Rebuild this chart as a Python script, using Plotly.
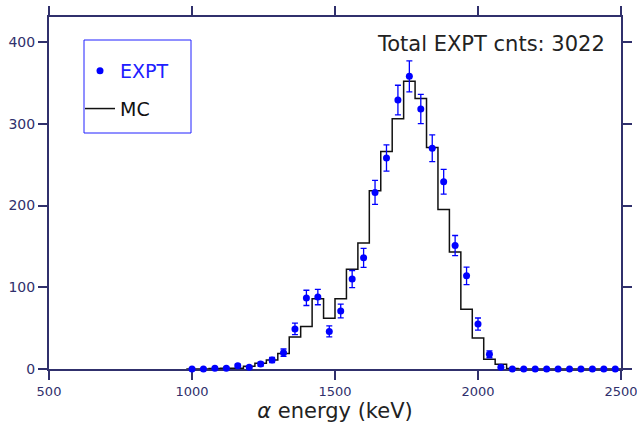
import numpy as np
import plotly.graph_objects as go

# ---------------- data ----------------
energy_keV = [1000, 1040, 1080, 1120, 1160, 1200, 1240, 1280, 1320, 1360,
              1400, 1440, 1480, 1520, 1560, 1600, 1640, 1680, 1720, 1760,
              1800, 1840, 1880, 1920, 1960, 2000, 2040, 2080, 2120, 2160,
              2200, 2240, 2280, 2320, 2360, 2400, 2440, 2480]
expt_counts = [0, 0, 1, 1, 4, 2, 6, 11, 20, 49,
               87, 88, 46, 71, 110, 136, 216, 258, 329, 358,
               318, 270, 229, 151, 114, 55, 18, 2, 0, 0,
               0, 0, 0, 0, 0, 0, 0, 0]
mc_counts = [0, 0, 0.5, 1, 1, 3.5, 7, 11, 19, 39,
             52, 86, 62, 86, 122, 154, 218, 266, 306, 352,
             331, 271, 195, 143, 73, 38, 12, 5.7, 0.5, 0,
             0, 0, 0, 0, 0, 0, 0, 0]
bin_width_keV = 40
x_ticks = [500, 1000, 1500, 2000, 2500]
y_ticks = [0, 100, 200, 300, 400]
total_label = "Total EXPT cnts: 3022"

AXIS = "#30306c"
FONT = "DejaVu Sans"

half = bin_width_keV / 2
mc_x = [e - half for e in energy_keV] + [energy_keV[-1] + half]
mc_y = list(mc_counts) + [mc_counts[-1]]
expt_err = np.sqrt(np.array(expt_counts, dtype=float))

fig = go.Figure()
fig.add_trace(go.Scatter(
    x=mc_x, y=mc_y, mode="lines", line_shape="hv",
    line=dict(color="#111111", width=1.5),
    name="<span style='color:#111111'>MC</span>", legendgroup="mc", legendrank=2,
    cliponaxis=False,
))
fig.add_trace(go.Scatter(
    x=energy_keV, y=expt_counts, mode="markers",
    marker=dict(color="#0000ff", size=7),
    error_y=dict(type="data", array=expt_err, color="#0000ff", thickness=1.3, width=3),
    name="<span style='color:#2020ff'>EXPT</span>", legendgroup="expt", legendrank=1,
    cliponaxis=False,
))

fig.update_layout(
    width=637, height=424,
    margin=dict(l=49, r=16, t=17, b=55, autoexpand=False),
    paper_bgcolor="white", plot_bgcolor="white",
    font=dict(family=FONT, color=AXIS),
    showlegend=True,
    legend=dict(
        x=(80 - 49) / 572, y=(369 - 52) / 352, xanchor="left", yanchor="top",
        bgcolor="rgba(0,0,0,0)", borderwidth=0,
        traceorder="grouped", tracegroupgap=10,
        font=dict(family=FONT, size=19, color="#111111"),
    ),
    shapes=[dict(
        type="rect", xref="paper", yref="paper",
        x0=(84 - 49) / 572, x1=(191 - 49) / 572,
        y0=(369 - 133) / 352, y1=(369 - 40) / 352,
        line=dict(color="#2020ff", width=1), fillcolor="rgba(0,0,0,0)",
    )],
    annotations=[dict(
        text=total_label, xref="paper", yref="paper",
        x=(607 - 49) / 572, y=(369 - 44) / 352, xanchor="right", yanchor="middle",
        showarrow=False, font=dict(family=FONT, size=21, color="#222222"),
    )],
)

fig.update_xaxes(
    range=[500, 2500], tickvals=x_ticks, ticktext=[str(t) for t in x_ticks],
    showline=True, linecolor=AXIS, linewidth=2, mirror="ticks",
    ticks="outside", ticklen=9, tickwidth=2, tickcolor=AXIS,
    showgrid=False, zeroline=False, layer="below traces", automargin=False,
    ticklabeloverflow="allow",
    tickfont=dict(family=FONT, size=13, color=AXIS),
    title=dict(text="<i>α</i> energy (keV)", font=dict(family=FONT, size=21, color="#222222"), standoff=4),
)
fig.update_yaxes(
    range=[0, 430.6], tickvals=y_ticks, ticktext=[str(t) for t in y_ticks],
    showline=True, linecolor=AXIS, linewidth=2, mirror="ticks",
    ticks="outside", ticklen=9, tickwidth=2, tickcolor=AXIS,
    showgrid=False, zeroline=False, layer="below traces", automargin=False,
    ticklabeloverflow="allow",
    tickfont=dict(family=FONT, size=14, color=AXIS),
)

fig.write_html("out.html")
